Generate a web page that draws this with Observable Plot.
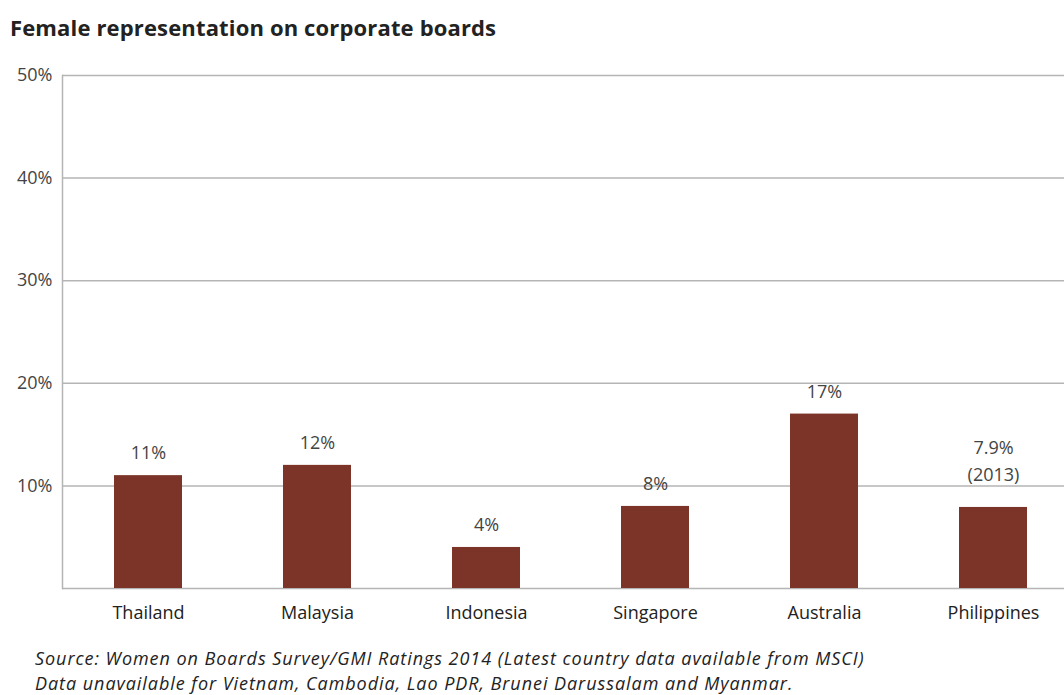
<!DOCTYPE html>
<html>
<head>
<meta charset="utf-8">
<script src="https://cdn.jsdelivr.net/npm/d3@7"></script>
<script src="https://cdn.jsdelivr.net/npm/@observablehq/plot@0.6"></script>
<style>
  html, body { margin: 0; padding: 0; background: #fff; overflow: hidden; }
  body { width: 1064px; height: 695px; position: relative; font-family: "Open Sans", sans-serif; }
  #title { position: absolute; left: 10px; top: 12px; font-weight: 700; font-size: 22px; color: #222; letter-spacing: 0.15px; }
  #chart { position: absolute; left: 0; top: 45px; }
  #caption { position: absolute; left: 35px; top: 646px; font-style: italic; font-size: 18px; line-height: 25px; color: #222; letter-spacing: 0.95px; }
</style>
</head>
<body>
<div id="title">Female representation on corporate boards</div>
<div id="chart"></div>
<div id="caption">
  <div>Source: Women on Boards Survey/GMI Ratings 2014 (Latest country data available from MSCI)</div>
  <div>Data unavailable for Vietnam, Cambodia, Lao PDR, Brunei Darussalam and Myanmar.</div>
</div>
<script>
const countries = ["Thailand", "Malaysia", "Indonesia", "Singapore", "Australia", "Philippines"];
const values = [11, 12, 4, 8, 17, 7.9];
const valueLabels = ["11%", "12%", "4%", "8%", "17%", "7.9%\n(2013)"];
const yTicks = [10, 20, 30, 40, 50];

const data = countries.map((c, i) => ({country: c, value: values[i], label: valueLabels[i]}));
const single = data.filter(d => !d.label.includes("\n"));
const multi = data.filter(d => d.label.includes("\n"));

const chart = Plot.plot({
  width: 1064,
  height: 600,
  marginTop: 30, marginBottom: 57, marginLeft: 62, marginRight: 0,
  style: {fontFamily: "Open Sans, sans-serif", fontSize: "18px", color: "#333", background: "transparent", overflow: "visible"},
  x: {domain: countries, range: [62, 1079], paddingInner: 0.6, paddingOuter: 0.3, align: 0.5, axis: null},
  y: {domain: [0, 50], axis: null},
  marks: [
    Plot.ruleY([0, ...yTicks], {stroke: "#b5b5b5", strokeWidth: 1.5}),
    Plot.frame({anchor: "left", stroke: "#b5b5b5", strokeWidth: 1.5}),
    Plot.axisY({ticks: yTicks, tickFormat: d => d + "%", anchor: "left", tickSize: 0, tickPadding: 10, fill: "#444", fontSize: 18, label: null}),
    Plot.barY(data, {x: "country", y: "value", fill: "#7b3427"}),
    Plot.text(single, {x: "country", y: "value", text: "label", dy: -22, fill: "#444", fontSize: 18}),
    Plot.text(multi, {x: "country", y: "value", text: "label", lineAnchor: "bottom", dy: -26, lineHeight: 1.5, fill: "#444", fontSize: 18}),
    Plot.axisX({tickSize: 0, tickPadding: 18, fill: "#222", fontSize: 18, label: null})
  ]
});
document.getElementById("chart").appendChild(chart);
</script>
</body>
</html>
